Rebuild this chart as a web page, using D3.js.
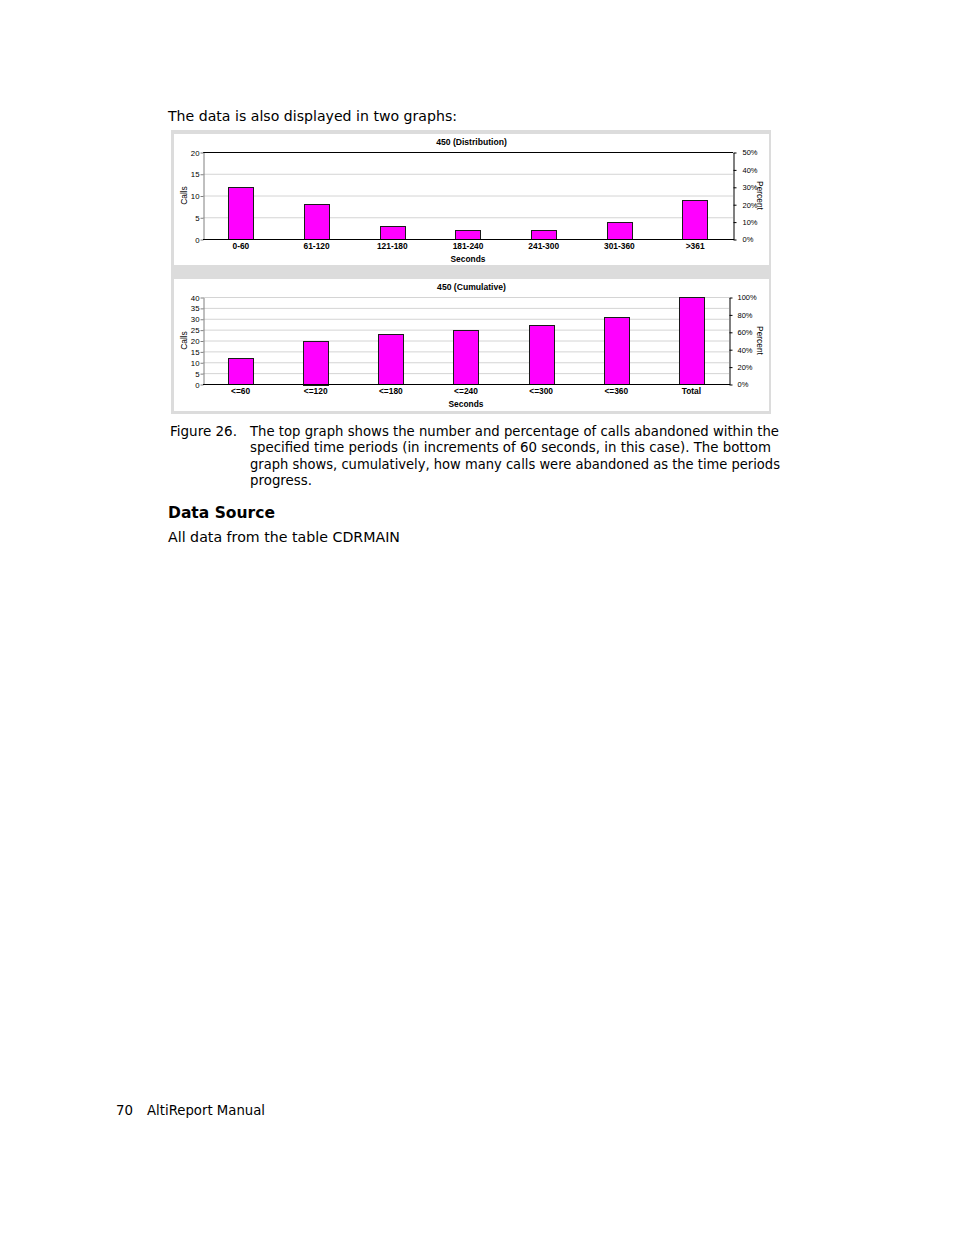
<!DOCTYPE html>
<html>
<head>
<meta charset="utf-8">
<script src="https://cdn.jsdelivr.net/npm/d3@7"></script>
<style>
  html, body { margin: 0; padding: 0; background: #fff; }
  svg { display: block; }
  .page { font-family: "DejaVu Sans", Verdana, sans-serif; fill: #000; }
  .chart text { font-family: "Liberation Sans", Arial, sans-serif; }
</style>
</head>
<body>
<svg id="page" width="954" height="1235"></svg>
<script>
// ---------- data ----------
const distCategories = ["0-60", "61-120", "121-180", "181-240", "241-300", "301-360", ">361"];
const distCalls = [12, 8, 3, 2, 2, 4, 9];
const cumCategories = ["<=60", "<=120", "<=180", "<=240", "<=300", "<=360", "Total"];
const cumCalls = [12, 20, 23, 25, 27, 31, 40];
const totalCalls = 40;
const distCallTicks = [0, 5, 10, 15, 20];
const distPercentTicks = [0, 0.1, 0.2, 0.3, 0.4, 0.5];
const cumCallTicks = [0, 5, 10, 15, 20, 25, 30, 35, 40];
const cumPercentTicks = [0, 0.2, 0.4, 0.6, 0.8, 1.0];
const distTitle = "450 (Distribution)";
const cumTitle = "450 (Cumulative)";

const svg = d3.select("#page");

// ---------- page text ----------
const page = svg.append("g").attr("class", "page");
function pageText(x, y, size, str, len, bold) {
  const t = page.append("text").attr("x", x).attr("y", y).attr("font-size", size).text(str);
  if (bold) t.attr("font-weight", "bold");
  if (len) t.attr("textLength", len).attr("lengthAdjust", "spacingAndGlyphs");
  return t;
}
pageText(168, 121, 13.4, "The data is also displayed in two graphs:", 289);

const captionLines = [
  "The top graph shows the number and percentage of calls abandoned within the",
  "specified time periods (in increments of 60 seconds, in this case). The bottom",
  "graph shows, cumulatively, how many calls were abandoned as the time periods",
  "progress."
];
const captionLens = [529, 521, 530, 62];
pageText(170, 436, 13.4, "Figure 26.", 67);
captionLines.forEach((d, i) => pageText(250, 436 + i * 16.3, 13.4, d, captionLens[i]));
pageText(168, 518, 15.5, "Data Source", 107, true);
pageText(168, 542, 13.4, "All data from the table CDRMAIN", 232);
pageText(116, 1115, 13.4, "70", 17);
pageText(147, 1115, 13.4, "AltiReport Manual", 118);

// ---------- chart frame ----------
const chart = svg.append("g").attr("class", "chart");
chart.append("rect").attr("x", 171).attr("y", 130).attr("width", 600).attr("height", 284).attr("fill", "#dcdcdc");
chart.append("rect").attr("x", 174).attr("y", 134).attr("width", 595).attr("height", 131).attr("fill", "#fff");
chart.append("rect").attr("x", 174).attr("y", 279).attr("width", 595).attr("height", 132).attr("fill", "#fff");

function drawChart(cfg) {
  const g = chart.append("g");
  const x = d3.scaleBand().domain(cfg.categories).range([cfg.left, cfg.right]).paddingInner(0.665).paddingOuter(0.3325);
  const y = d3.scaleLinear().domain([0, cfg.yMax]).range([cfg.bottom, cfg.top]);
  const yp = d3.scaleLinear().domain([0, cfg.yMax / totalCalls]).range([cfg.bottom, cfg.top]);

  // gridlines
  g.selectAll("line.grid").data(cfg.callTicks.filter(v => v > 0)).join("line")
    .attr("x1", cfg.left).attr("x2", cfg.right)
    .attr("y1", d => y(d) + 0.5).attr("y2", d => y(d) + 0.5)
    .attr("stroke", "#d4d4d4").attr("stroke-width", 1);
  if (cfg.topBorder) {
    g.append("line").attr("x1", cfg.left).attr("x2", cfg.right)
      .attr("y1", cfg.top + 0.5).attr("y2", cfg.top + 0.5).attr("stroke", "#000");
  }

  // bars
  g.selectAll("rect.bar").data(cfg.values).join("rect")
    .attr("x", (d, i) => Math.round(x(cfg.categories[i])) + 0.5)
    .attr("y", d => Math.round(y(d)) + 0.5)
    .attr("width", Math.round(x.bandwidth()))
    .attr("height", d => Math.round(cfg.bottom - y(d)))
    .attr("fill", "#ff00ff").attr("stroke", "#1a1a1a").attr("stroke-width", 1);

  // left axis
  const la = g.append("g").attr("transform", `translate(${cfg.left + 0.5},0.5)`)
    .call(d3.axisLeft(y).tickValues(cfg.callTicks).tickFormat(d3.format("d")).tickSize(3).tickSizeOuter(0).tickPadding(1));
  la.select(".domain").attr("stroke", "#808080");
  la.selectAll(".tick line").attr("stroke", "#808080");
  la.selectAll("text").attr("font-size", 7.8).attr("fill", "#000").attr("font-family", "Liberation Sans, Arial, sans-serif");

  // right axis
  const ra = g.append("g").attr("transform", `translate(${cfg.right + 0.5},0.5)`)
    .call(d3.axisRight(yp).tickValues(cfg.percentTicks).tickFormat(d3.format(".0%")).tickSize(3).tickSizeOuter(0).tickPadding(cfg.rightPad));
  ra.select(".domain").attr("stroke", "#000");
  ra.selectAll("text").attr("font-size", 7.5).attr("fill", "#000").attr("font-family", "Liberation Sans, Arial, sans-serif");

  // bottom axis line
  g.append("line").attr("x1", cfg.left).attr("x2", cfg.right + 1)
    .attr("y1", cfg.bottom + 0.5).attr("y2", cfg.bottom + 0.5).attr("stroke", "#000");

  // category labels
  g.selectAll("text.cat").data(cfg.categories).join("text").attr("class", "cat")
    .attr("x", d => x(d) + x.bandwidth() / 2).attr("y", cfg.bottom + 10)
    .attr("text-anchor", "middle").attr("font-size", 8.4).attr("font-weight", "bold").text(d => d);

  g.append("text").attr("x", (cfg.left + cfg.right) / 2).attr("y", cfg.bottom + 23)
    .attr("text-anchor", "middle").attr("font-size", 8.4).attr("font-weight", "bold").text("Seconds");

  g.append("text").attr("x", 471.5).attr("y", cfg.titleY)
    .attr("text-anchor", "middle").attr("font-size", 8.6).attr("font-weight", "bold").text(cfg.title);

  const mid = (cfg.top + cfg.bottom) / 2;
  g.append("text").attr("transform", `translate(187,${mid}) rotate(-90)`)
    .attr("text-anchor", "middle").attr("font-size", 8.4).text("Calls");
  g.append("text").attr("transform", `translate(756.5,${mid}) rotate(90)`)
    .attr("text-anchor", "middle").attr("font-size", 8.4).text("Percent");
}

drawChart({
  categories: distCategories, values: distCalls, yMax: 20,
  callTicks: distCallTicks, percentTicks: distPercentTicks,
  left: 203, right: 733, top: 152, bottom: 239, titleY: 145, title: distTitle,
  topBorder: true, rightPad: 6
});
drawChart({
  categories: cumCategories, values: cumCalls, yMax: 40,
  callTicks: cumCallTicks, percentTicks: cumPercentTicks,
  left: 203, right: 729, top: 297, bottom: 384, titleY: 290, title: cumTitle,
  topBorder: false, rightPad: 5
});
</script>
</body>
</html>
